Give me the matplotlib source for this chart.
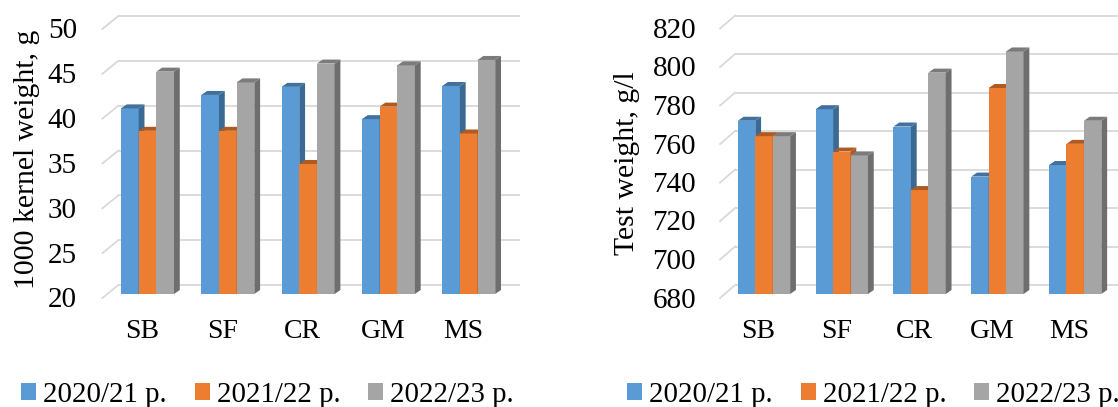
import matplotlib
matplotlib.use("Agg")
import matplotlib.pyplot as plt
from matplotlib.patches import Polygon, Patch
from matplotlib.transforms import ScaledTranslation

plt.rcParams['font.family'] = ['Liberation Serif', 'DejaVu Serif']

W, H = 1118, 407
categories = ["SB", "SF", "CR", "GM", "MS"]
seasons = ["2020/21 р.", "2021/22 р.", "2022/23 р."]

kernel_2021 = [40.7, 42.2, 43.1, 39.5, 43.2]
kernel_2122 = [38.2, 38.2, 34.5, 40.9, 37.9]
kernel_2223 = [44.8, 43.6, 45.7, 45.5, 46.1]
kernel_ticks = [20, 25, 30, 35, 40, 45, 50]

test_2021 = [770, 776, 767, 741, 747]
test_2122 = [762, 754, 734, 787, 758]
test_2223 = [762, 752, 795, 806, 770]
test_ticks = [680, 700, 720, 740, 760, 780, 800, 820]

front = ["#5B9BD5", "#ED7D31", "#A5A5A5"]
side = ["#3A6A94", "#B0591F", "#6E6E6E"]
top = ["#41719C", "#AE5A21", "#7B7B7B"]
GRID = "#D9D9D9"

fig = plt.figure(figsize=(W / 100, H / 100), dpi=100)


def panel(px_left, px_span, px_bottom, px_top, ticks, series, bar_w, ylabel,
          ylabel_xy, wall_dx, tick_right, leg_x, label_shift):
    ax = fig.add_axes([px_left / W, 1 - px_bottom / H,
                       px_span / W, (px_bottom - px_top) / H])
    ymin, ymax = ticks[0], ticks[-1]
    ax.set_xlim(-0.5, 4.5)
    ax.set_ylim(ymin, ymax)
    ux = 5 / px_span                      # data units per pixel, x
    uy = (ymax - ymin) / (px_bottom - px_top)  # data units per pixel, y

    # back wall grid and floor diagonals
    wx, wy = wall_dx * ux, 9 * uy
    fx, fy = -5 * ux, -4 * uy
    for t in ticks:
        ax.plot([-0.5 + wx, 4.5 + wx], [t + wy, t + wy], color=GRID, lw=1.3,
                zorder=1, clip_on=False, solid_capstyle='butt')
        ax.plot([-0.5 + fx, -0.5 + wx], [t + fy, t + wy], color=GRID, lw=1.3,
                zorder=1, clip_on=False)

    # 3-D bars
    dx, dy = 5.8 * ux, 4 * uy
    z = 3
    for i in range(len(categories)):
        for s, vals in enumerate(series):
            x0 = i + (s - 1.5) * bar_w
            x1 = x0 + bar_w
            v = vals[i]
            ax.bar(x0, v - ymin, width=bar_w, bottom=ymin, align='edge',
                   color=front[s], linewidth=0, zorder=z, clip_on=False)
            ax.add_patch(Polygon([(x1, ymin), (x1 + dx, ymin + dy), (x1 + dx, v + dy), (x1, v)],
                                 closed=True, fc=side[s], ec='none', zorder=z, clip_on=False))
            ax.add_patch(Polygon([(x0, v), (x1, v), (x1 + dx, v + dy), (x0 + dx, v + dy)],
                                 closed=True, fc=top[s], ec='none', zorder=z, clip_on=False))
            z += 1

    for sp in ax.spines.values():
        sp.set_visible(False)
    ax.patch.set_visible(False)
    ax.set_xticks(range(len(categories)), categories)
    ax.set_yticks(ticks)
    ax.tick_params(axis='y', length=0, labelsize=21, pad=(px_left - tick_right) * 0.72)
    ax.tick_params(axis='x', length=0, labelsize=20, pad=18)
    for lab in ax.get_yticklabels():
        lab.set_transform(lab.get_transform() + ScaledTranslation(0, -3.5 / 100, fig.dpi_scale_trans))
    for lab in ax.get_xticklabels():
        lab.set_transform(lab.get_transform() + ScaledTranslation(label_shift / 100, 0, fig.dpi_scale_trans))

    fig.text(ylabel_xy[0] / W, 1 - ylabel_xy[1] / H, ylabel, rotation=90, fontsize=21.4,
             ha='center', va='center')

    handles = [Patch(fc=c, ec='none') for c in front]
    fig.legend(handles, seasons, loc='lower left',
               bbox_to_anchor=(leg_x / W, 1 - 408 / H), bbox_transform=fig.transFigure,
               ncol=3, frameon=False, fontsize=20.8, handlelength=0.52, handleheight=0.52,
               handletextpad=0.24, columnspacing=0.97, borderpad=0, borderaxespad=0)
    return ax


panel(107.35, 401.5, 294, 25, kernel_ticks, [kernel_2021, kernel_2122, kernel_2223],
      0.22, "1000 kernel weight, g", (27, 159), 11, 77, 21, -5.5)
panel(725.1, 389, 294, 24.5, test_ticks, [test_2021, test_2122, test_2223],
      0.224, "Test weight, g/l", (627, 163), 10, 696, 627, -5.5)

fig.savefig("out.png", dpi=100)
